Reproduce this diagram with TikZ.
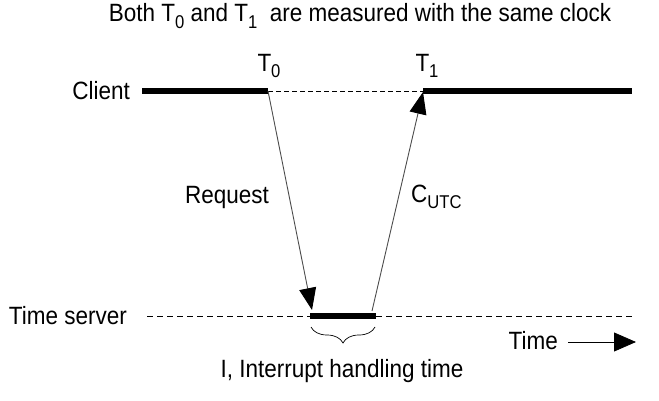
\documentclass[tikz,border=0pt]{standalone}
\usepackage{fontspec}
\setmainfont{Liberation Sans}[FakeStretch=0.9]
\usetikzlibrary{arrows.meta,decorations.pathreplacing}
\newcommand{\lowsub}[1]{\raisebox{-0.5ex}{\fontsize{18.5}{18.5}\selectfont #1}}
\tikzset{
  lbl/.style={font=\fontsize{25}{28}\selectfont, inner sep=0pt},
  thick line/.style={line width=5.5pt},
  thin dash/.style={line width=0.8pt, dash pattern=on 5pt off 3pt},
  msg/.style={line width=0.9pt, draw=black!70, -{Triangle[length=22pt,width=17pt,fill=black,color=black]}},
}
\begin{document}
\begin{tikzpicture}[x=1pt,y=-1pt]
\useasboundingbox (0,0) rectangle (659,401);
% title
\node[lbl] (title) at (360,16) {Both T\lowsub{0} and T\lowsub{1}\ \ are measured with the same clock};
% client line
\node[lbl, anchor=east] (client) at (130,91) {Client};
\coordinate (cA) at (142,91);
\coordinate (c0) at (268,91);
\coordinate (c1) at (423,91);
\coordinate (cB) at (632,91);
\draw[thick line] (cA) -- (c0);
\draw[thin dash] (c0) -- (c1);
\draw[thick line] (c1) -- (cB);
\node[lbl] (t0) at (269,66) {T\lowsub{0}};
\node[lbl] (t1) at (427,66) {T\lowsub{1}};
% server line
\node[lbl, anchor=east] (server) at (127,316) {Time server};
\coordinate (sA) at (147,316);
\coordinate (s0) at (310,316);
\coordinate (s1) at (376,316);
\coordinate (sB) at (635,316);
\draw[thin dash, dash pattern=on 6pt off 4pt] (sA) -- (s0);
\draw[thin dash, dash pattern=on 6pt off 4pt] (s1) -- (sB);
\draw[thick line] (s0) -- (s1);
% messages
\coordinate (reqEnd) at (312,310);
\coordinate (repStart) at (372,311);
\coordinate (repEnd) at (423,92);
\draw[msg] (c0) -- (reqEnd);
\draw[msg] (repStart) -- (repEnd);
\node[lbl] (req) at (227,197) {Request};
\node[lbl, anchor=west] (cutc) at (411,197) {C\lowsub{UTC}};
% brace
\coordinate (bR) at (375,327);
\coordinate (bL) at (311,327);
\draw[line width=0.7pt, decorate, decoration={brace, amplitude=16pt, aspect=0.5}] (bR) -- (bL);
\node[lbl] (ilabel) at (342,371) {I, Interrupt handling time};
% time arrow
\node[lbl, anchor=east] (time) at (558,341) {Time};
\coordinate (tA) at (568,342);
\coordinate (tB) at (636,342);
\draw[line width=0.8pt, -{Triangle[length=22pt,width=19pt]}] (tA) -- (tB);
\end{tikzpicture}
\end{document}
